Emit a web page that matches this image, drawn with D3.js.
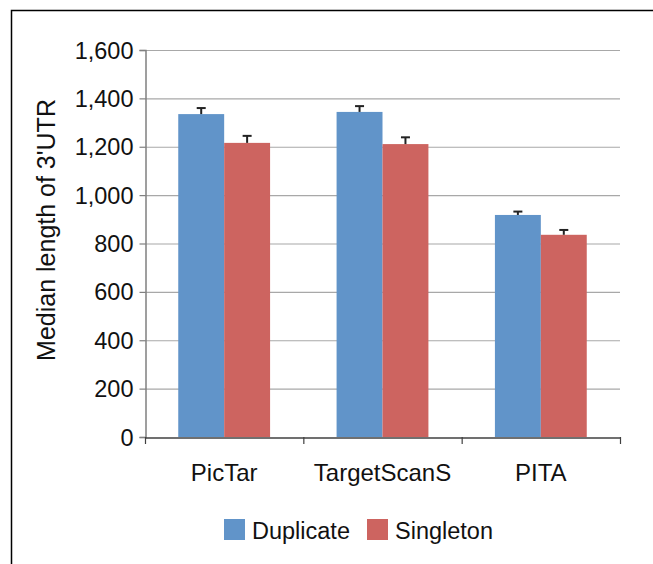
<!DOCTYPE html>
<html><head><meta charset="utf-8">
<script src="https://cdn.jsdelivr.net/npm/d3@7"></script>
<style>body{margin:0;background:#fff}svg{display:block}text{font-family:"Liberation Sans",Arial,Helvetica,sans-serif}</style>
</head><body>
<svg id="c" width="653" height="564"></svg>
<script>
const categories = ["PicTar", "TargetScanS", "PITA"];
const seriesNames = ["Duplicate", "Singleton"];
const duplicate = [1335, 1344, 918];
const singleton = [1216, 1211, 836];
const duplicateErr = [25, 24, 14];
const singletonErr = [29, 28, 20];
const yTicks = [0, 200, 400, 600, 800, 1000, 1200, 1400, 1600];
const colors = ["#6194C9", "#CD6460"];

(function(){
const svg = d3.select("#c");
const mLeft = 145, mRight = 620, mTop = 50, mBottom = 437;
const fs = 23.5;

// frame
svg.append("path").attr("d", "M11.5,564 L11.5,10.5 L653,10.5").attr("fill","none").attr("stroke","#000").attr("stroke-width",1.5);

const y = d3.scaleLinear().domain([0, 1600]).range([mBottom, mTop]);
const x0 = d3.scaleBand().domain(categories).range([mLeft, mRight]).paddingInner(0).paddingOuter(0);
const x1 = d3.scaleBand().domain(seriesNames).range([x0.bandwidth()*0.21, x0.bandwidth()*0.79]);

// gridlines
svg.append("g").selectAll("line").data(yTicks.filter(d=>d>0)).join("line")
  .attr("x1", mLeft).attr("x2", mRight).attr("y1", d=>y(d)+0.5).attr("y2", d=>y(d)+0.5)
  .attr("stroke","#A8A8A8").attr("stroke-width",1.2);

// y axis
const ya = svg.append("g").attr("transform",`translate(${mLeft+0.5},0)`)
  .call(d3.axisLeft(y).tickValues(yTicks).tickSize(6).tickFormat(d3.format(",")));
ya.select(".domain").attr("stroke","#808080").attr("stroke-width",1.5);
ya.selectAll(".tick line").attr("stroke","#808080").attr("stroke-width",1.2);
ya.selectAll("text").attr("font-size",fs).attr("fill","#111").attr("x",-12).attr("dy","0.34em");

// bars
const data = categories.map((c,i)=>({c, vals:[
  {s:seriesNames[0], v:duplicate[i], e:duplicateErr[i], col:colors[0]},
  {s:seriesNames[1], v:singleton[i], e:singletonErr[i], col:colors[1]}]}));
const g = svg.append("g").selectAll("g").data(data).join("g")
  .attr("transform", d=>`translate(${x0(d.c)},0)`);
g.selectAll("rect").data(d=>d.vals).join("rect")
  .attr("x", d=>x1(d.s)).attr("width", x1.bandwidth())
  .attr("y", d=>y(d.v)).attr("height", d=>mBottom - y(d.v)).attr("fill", d=>d.col);
// error bars
const eb = g.selectAll("g.err").data(d=>d.vals).join("g").attr("class","err")
  .attr("transform", d=>`translate(${x1(d.s)+x1.bandwidth()/2},0)`);
eb.append("line").attr("x1",0).attr("x2",0).attr("y1",d=>y(d.v)).attr("y2",d=>y(d.v+d.e))
  .attr("stroke","#222").attr("stroke-width",2);
eb.append("line").attr("x1",-4.5).attr("x2",4.5).attr("y1",d=>y(d.v+d.e)).attr("y2",d=>y(d.v+d.e))
  .attr("stroke","#222").attr("stroke-width",2);

// x axis
const xa = svg.append("g").attr("transform",`translate(0,${mBottom+0.5})`)
  .call(d3.axisBottom(x0).tickSize(0).tickPadding(26));
xa.select(".domain").attr("stroke","#404040").attr("stroke-width",1.5);
xa.selectAll("text").attr("font-size",24).attr("fill","#111");
svg.append("g").selectAll("line").data([mLeft, ...categories.map(c=>x0(c)+x0.bandwidth())]).join("line")
  .attr("x1",d=>d+0.5).attr("x2",d=>d+0.5).attr("y1",mBottom).attr("y2",mBottom+7)
  .attr("stroke","#404040").attr("stroke-width",1.2);

// y title
svg.append("text").attr("transform","translate(55,230) rotate(-90)").attr("text-anchor","middle")
  .attr("font-size",25).attr("fill","#111").text("Median length of 3'UTR");

// legend
const lg = svg.append("g");
const lx = [224, 367];
seriesNames.forEach((s,i)=>{
  lg.append("rect").attr("x",lx[i]).attr("y",519).attr("width",21).attr("height",21).attr("fill",colors[i]);
  lg.append("text").attr("x",lx[i]+28).attr("y",539).attr("font-size",fs).attr("fill","#111").text(s);
});
})();
</script>
</body></html>
